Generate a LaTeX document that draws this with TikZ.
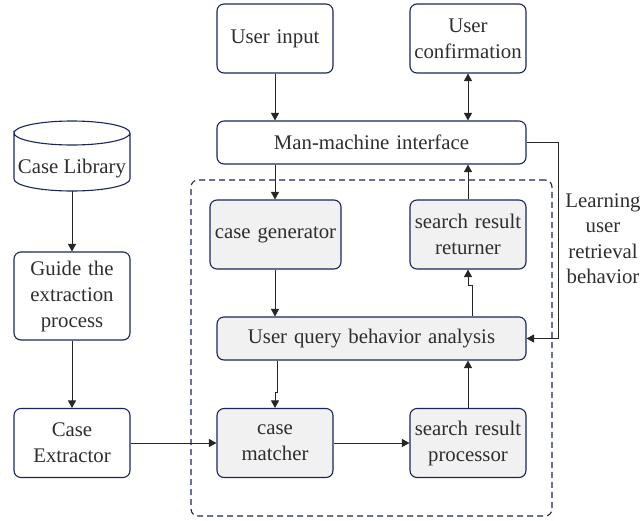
\documentclass[tikz,border=0pt]{standalone}
\usepackage{fontspec}
\setmainfont{Liberation Serif}
\usetikzlibrary{arrows.meta,shapes.geometric,calc}
\definecolor{edgeblue}{HTML}{1A2558}
\definecolor{panel}{HTML}{F1F1F1}
\definecolor{ink}{HTML}{2E2E2E}
\definecolor{wire}{HTML}{262626}
\tikzset{
  x=1pt,y=-1pt,
  box/.style={draw=edgeblue,line width=1.1pt,rounded corners=7pt,align=center,text=ink,font=\fontsize{20.8}{26}\selectfont,inner sep=0pt,text width=#1},
  box/.default=116pt,
  shaded/.style={fill=panel},
  wirearrow/.style={draw=wire,line width=1pt,-{Triangle[length=7.5pt,width=8pt]}},
  biarrow/.style={draw=wire,line width=1pt,{Triangle[length=7.5pt,width=8pt]}-{Triangle[length=7.5pt,width=8pt]}},
}
\newcommand{\mybox}[7]{\node[box=#5,minimum height=#6,#7] (#1) at (#2,#3) {#4};}
\begin{document}
\begin{tikzpicture}
\useasboundingbox (0,0) rectangle (643,520);
\node[draw=edgeblue,dash pattern=on 6pt off 4pt,line width=1.1pt,rounded corners=7pt,minimum width=361pt,minimum height=336pt,inner sep=0pt] (group) at (371.5,348) {};
\mybox{ui}{275}{38.5}{User input}{116pt}{69pt}{}
\mybox{uc}{468}{38.5}{User\\confirmation}{116pt}{69pt}{}
\mybox{mm}{371.5}{142.5}{Man-machine interface}{309pt}{43pt}{}
\mybox{cg}{275.5}{234.5}{case generator}{131pt}{69pt}{shaded}
\mybox{rr}{468}{234.5}{search result\\returner}{116pt}{69pt}{shaded}
\mybox{qa}{371.5}{338.5}{User query behavior analysis}{309pt}{43pt}{shaded}
\mybox{cm}{275}{443}{case\\matcher}{116pt}{69pt}{shaded}
\mybox{rp}{468}{443}{search result\\processor}{116pt}{69pt}{shaded}
\mybox{gp}{72}{296}{Guide the\\extraction\\process}{116pt}{88pt}{}
\mybox{ce}{72}{443}{Case\\Extractor}{116pt}{69pt}{}
\node[minimum width=116pt,minimum height=70pt,inner sep=0pt,outer sep=0pt,text=ink,font=\fontsize{20.8}{26}\selectfont] (cl) at (72,156) {\raisebox{-17.5pt}[0pt][0pt]{Case Library}};
\draw[draw=edgeblue,line width=1.1pt] ($(cl.north west)+(0,12)$) arc[start angle=180,end angle=-180,x radius=58pt,y radius=12pt] -- ($(cl.south west)+(0,-12)$) arc[start angle=180,end angle=360,x radius=58pt,y radius=12pt] -- ($(cl.north east)+(0,12)$);
\node[align=center,text=ink,font=\fontsize{20.8}{25.5}\selectfont,inner sep=0pt] (lab) at (603,238.5) {Learning\\user\\retrieval\\behavior};
\coordinate (c1) at (558,142.5);
\coordinate (c2) at (558,338.5);
\coordinate (j1) at (472,285);
\coordinate (j2) at (468,285);
\coordinate (j3) at (277,392);
\coordinate (j4) at (275,392);
\draw[wirearrow] (ui.south) -- (ui.south |- mm.north);
\draw[biarrow] (uc.south) -- (uc.south |- mm.north);
\draw[wirearrow] (ui.center |- mm.south) -- (ui.center |- cg.north);
\draw[wirearrow] (rr.north) -- (rr.north |- mm.south);
\draw[wirearrow] (ui.center |- cg.south) -- (ui.center |- qa.north);
\draw[wirearrow] (j1 |- qa.north) -- (j1) -- (j2) -- (rr.south);
\draw[wirearrow] (j3 |- qa.south) -- (j3) -- (j4) -- (cm.north);
\draw[wirearrow] (rp.north) -- (rp.north |- qa.south);
\draw[wirearrow] (cm.east) -- (rp.west);
\draw[wirearrow] (ce.east) -- (cm.west);
\draw[wirearrow] (cl.south) -- (gp.north);
\draw[wirearrow] (gp.south) -- (ce.north);
\draw[draw=wire,line width=1pt] (mm.east) -- (c1) -- (c2);
\draw[wirearrow] (c2) -- (qa.east);
\end{tikzpicture}
\end{document}
